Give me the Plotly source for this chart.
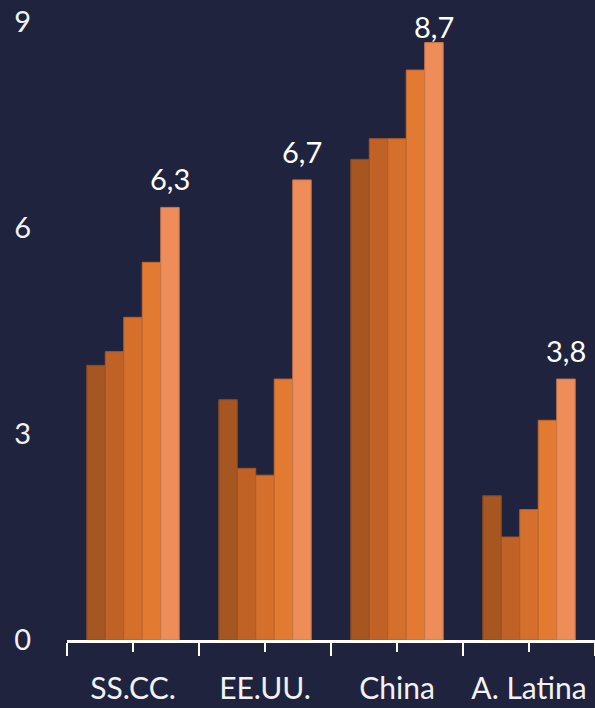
import plotly.graph_objects as go

categories = ["SS.CC.", "EE.UU.", "China", "A. Latina"]
series_1 = [4.0, 3.5, 7.0, 2.1]
series_2 = [4.2, 2.5, 7.3, 1.5]
series_3 = [4.7, 2.4, 7.3, 1.9]
series_4 = [5.5, 3.8, 8.3, 3.2]
series_5 = [6.3, 6.7, 8.7, 3.8]
y_ticks = [0, 3, 6, 9]

series = [series_1, series_2, series_3, series_4, series_5]
colors = ["#A65721", "#C06226", "#D46F2C", "#E37A31", "#EE8D5A"]
lines = ["#8E4A1C", "#A55421", "#B55F26", "#C2682A", "#C9784C"]

x = list(range(len(categories)))
font_family = "Lato, 'Open Sans', sans-serif"
n = len(series)
bargap = 0.30
bar_w = (1 - bargap) / n

W, H = 595, 708
M_T, M_B = 22, 68
y_max = 9
px_per_unit = (H - M_T - M_B) / y_max

fig = go.Figure()
for i, vals in enumerate(series):
    fig.add_trace(go.Bar(
        x=x, y=vals,
        marker=dict(color=colors[i], line=dict(color=lines[i], width=1)),
        showlegend=False,
    ))

# value labels on the last series (kept inside the figure when near the top)
offset = -(1 - bargap) / 2 + bar_w * (n - 0.5)
for xi, v in zip(x, series_5):
    headroom = (y_max - v) * px_per_unit + M_T
    shift = min(9, headroom - 46)
    fig.add_annotation(
        x=xi + offset, y=v, xref="x", yref="y",
        text=f"{v:.1f}".replace(".", ","),
        showarrow=False, yanchor="bottom", xanchor="center", yshift=shift,
        font=dict(size=29, color="#FFFFFF", family=font_family),
    )

fig.update_layout(
    width=W, height=H,
    margin=dict(l=67, r=0, t=M_T, b=M_B, pad=0),
    paper_bgcolor="#1F233E", plot_bgcolor="#1F233E",
    barmode="group", bargap=bargap, bargroupgap=0,
    separators=",.",
    font=dict(family=font_family, color="#F2F2F2", size=29),
)
fig.update_xaxes(
    range=[-0.5, len(categories) - 0.5],
    tickmode="array", tickvals=x, ticktext=categories,
    ticks="outside", ticklen=9, tickwidth=2, tickcolor="#FFFFFF",
    minor=dict(tickmode="array", tickvals=[v - 0.5 for v in x] + [len(x) - 0.5],
               ticks="outside", ticklen=13, tickwidth=2, tickcolor="#FFFFFF"),
    showline=True, linecolor="#FFFFFF", linewidth=2.5,
    showgrid=False, zeroline=False,
    ticklabelstandoff=11,
    tickfont=dict(size=30, color="#F2F2F2", family=font_family),
)
fig.update_yaxes(
    range=[0, y_max], tickmode="array", tickvals=y_ticks,
    showgrid=False, zeroline=False, showline=False, ticks="",
    tickfont=dict(size=29, color="#F2F2F2", family=font_family),
    ticklabelstandoff=35,
)

fig.write_html("out.html")
